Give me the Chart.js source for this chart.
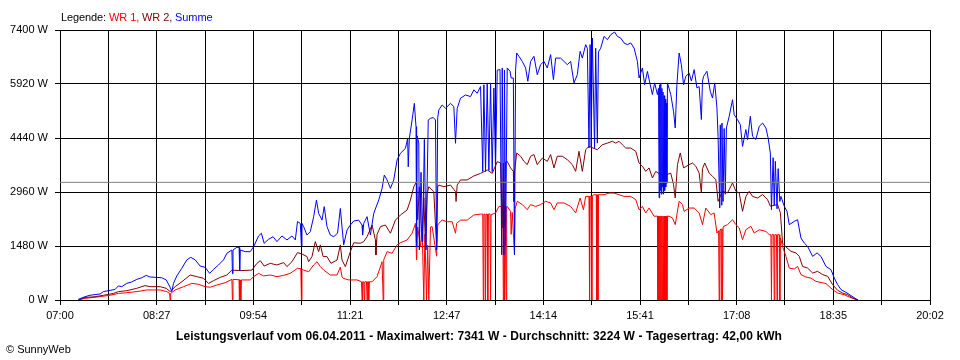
<!DOCTYPE html>
<html><head><meta charset="utf-8">
<script src="https://cdn.jsdelivr.net/npm/chart.js@4.4.0/dist/chart.umd.min.js"></script>
<style>
html,body{margin:0;padding:0;background:#fff;}
#wrap{position:relative;width:960px;height:360px;overflow:hidden;}
canvas{position:absolute;left:0;top:0;}
.txt{position:absolute;font-family:"Liberation Sans",Arial,sans-serif;color:#000;white-space:nowrap;line-height:14px;}
</style></head><body>
<div id="wrap">
<canvas id="c" width="960" height="360"></canvas>
<div class="txt" id="legend" style="left:61px;top:10px;font-size:11px;letter-spacing:-0.1px;">Legende: <span style="color:#ff0000">WR 1,</span> <span style="color:#800000">WR 2,</span> <span style="color:#0000ff">Summe</span></div>
<div class="txt" id="title" style="left:0;width:958px;text-align:center;top:329px;font-size:12px;font-weight:bold;letter-spacing:0.1px;"></div>
<div class="txt" id="copy" style="left:6px;top:342px;font-size:11px;">© SunnyWeb</div>
</div>
<script>
// ---- data (minutes after 07:00, watts) ----
const xLabels = ['07:00','08:27','09:54','11:21','12:47','14:14','15:41','17:08','18:35','20:02'];
const yTicks = [0,1480,2960,4440,5920,7400];
const dateText = '06.04.2011';
const maxW = 7341;
const avgW = 3224;
const yieldKWh = '42,00';

const wr1Data = [[16.5,0],[22.5,45],[33,80],[45,130],[52.5,180],[60,200],[69,230],[78,275],[90,275],[96,230],[98.5,180],[99,0],[99.5,180],[103.5,275],[111,365],[118.5,455],[124.5,430],[130.5,365],[135,350],[141,410],[148.5,475],[154.5,565],[155,0],[155.5,565],[161,555],[161.3,0],[161.8,550],[162.5,0],[163,550],[171,550],[174,640],[178.5,730],[183,660],[189,685],[195,640],[201,675],[207,730],[213.5,870],[216.5,860],[217,0],[217.5,850],[219,820],[223.5,775],[228,960],[231,1050],[234,915],[237,820],[243,685],[249,685],[252,900],[253.5,640],[254.5,595],[259.5,550],[267,550],[271,500],[271.5,0],[272,500],[273,500],[273.5,0],[274,500],[275.5,500],[276,0],[276.5,500],[277,500],[277.5,0],[278,500],[280.5,500],[285,640],[289.5,1050],[290.5,0],[291,1100],[294,1325],[298.5,1280],[303,1510],[306,1570],[312,1645],[316.5,1830],[319.5,2100],[320.5,1100],[321.5,2000],[324,1460],[325.5,2000],[327,0],[328,1800],[329.5,0],[330.5,1500],[331.5,0],[333,2000],[334.5,2010],[338.5,1200],[339.5,2050],[340.5,2100],[343.5,2190],[348,2145],[352.5,2145],[355.5,1830],[356.5,2100],[360,2190],[366,2190],[372,2330],[378,2355],[380,2355],[380.5,0],[381,2355],[382,2355],[382.5,0],[383,2355],[384,2355],[384.5,0],[385,2355],[386.5,2360],[387,0],[387.5,2340],[391.5,2385],[394.5,2565],[398,2565],[398.5,0],[399,2565],[399.5,0],[400,2565],[401,0],[401.5,2565],[402,2565],[405,2430],[405.5,1800],[406.5,2400],[408.5,1240],[409,2500],[411,2705],[415.5,2615],[420,2475],[423,2615],[427.5,2565],[432,2615],[436.5,2705],[441,2660],[444,2475],[447,2660],[453,2660],[459,2565],[463.5,2385],[467.5,2795],[470.5,2475],[472.5,2840],[475.5,2840],[476,0],[476.5,2840],[477.5,2850],[478,0],[478.5,2860],[480,2885],[482,2885],[482.5,0],[483,2885],[483.5,0],[484,2885],[489,2885],[493.5,2930],[498,2930],[502.5,2885],[507,2840],[513,2840],[517.5,2750],[520.5,2475],[523.5,2565],[526.5,2385],[529.5,2520],[534,2295],[537,2300],[537.5,0],[538,2300],[538.5,0],[539,2300],[539.5,0],[540,2300],[540.5,0],[541,2300],[541.5,0],[542,2300],[542.5,0],[543,2300],[543.5,0],[544,2300],[544.5,0],[545,2300],[545.5,0],[546,2300],[547.5,2295],[550.5,2250],[553,2065],[556.5,2705],[559.5,2615],[561,2430],[565.5,2520],[570,2520],[574.5,2385],[577.5,2065],[580.5,2520],[585,2340],[588,2385],[590.5,1835],[592,1900],[592.5,0],[593,1900],[594,1950],[594.5,0],[595,1950],[595.5,0],[596,2000],[596.5,2020],[600,2065],[604.5,2200],[607.5,2065],[610.5,1975],[613.5,1655],[616.5,1925],[621,2020],[624,1835],[628.5,1925],[634.5,1880],[637.5,1790],[639,1790],[639.5,0],[640,1790],[641.5,1790],[642,0],[642.5,1790],[644,1790],[644.5,0],[645,1790],[646.5,1790],[647,0],[647.5,1700],[649.5,1470],[652.5,1195],[655.5,875],[660,850],[663,920],[666,695],[670.5,630],[675,600],[679.5,510],[684,480],[688.5,450],[694.5,285],[699,190],[705,145],[709.5,80],[714,30],[717,0]];

const wr2Data = [[16.5,0],[22.5,70],[31.5,90],[39,130],[48,180],[52.5,230],[60,255],[69,320],[76.5,395],[81,365],[90,365],[95.5,320],[99,230],[103.5,365],[109.5,500],[117,685],[123,640],[129,595],[133.5,455],[138,530],[144,620],[150,685],[154.5,820],[162,805],[172.5,820],[177,1005],[180,1080],[183.5,930],[189,1005],[195,960],[201,1025],[204,915],[208.5,1050],[213.5,1300],[217.5,1260],[222,1190],[223.5,1050],[226.5,1190],[229.5,1600],[232.5,1325],[234,1510],[236.5,1190],[240,1190],[243.5,1005],[249,1095],[252,1510],[253.5,1095],[256.5,915],[261,1325],[264,1570],[270,1555],[273,1600],[276,1735],[280.5,2055],[283.5,1645],[284,1235],[285,1800],[288,2010],[292.5,2055],[297,1830],[301.5,2190],[306,2330],[312,2465],[315,2740],[318,3105],[320.5,3245],[321.5,2200],[323,3100],[324,2560],[325.5,1600],[327,2800],[328.5,1500],[330,2900],[331.5,3105],[336,2970],[338.5,1460],[339.5,3100],[340.5,3150],[345,3105],[351,3150],[355.5,2970],[356,2700],[357,3150],[360,3290],[366,3290],[372,3400],[378,3470],[384,3565],[388.5,3470],[393,3790],[396,3755],[397.5,1975],[398.5,3750],[399.5,2000],[400.5,3780],[402,3800],[405,3620],[407.5,3525],[408,2700],[408.5,3500],[410.5,4030],[414,3940],[417,3800],[420,3710],[423,3940],[426,3985],[429,3710],[433.5,3890],[438,3800],[441,3985],[444,3620],[447,3940],[451.5,3940],[456,3845],[460.5,3710],[463.5,3525],[466.5,4075],[469.5,3525],[472.5,4120],[475.5,4210],[483,4120],[487.5,4255],[492,4300],[496.5,4350],[499.5,4300],[502.5,4350],[505.5,4255],[508.5,4165],[513,4165],[517.5,4075],[520.5,3755],[523.5,3665],[526.5,3525],[529.5,3620],[532.5,3345],[535.5,3525],[540,3430],[544.5,3430],[549,3475],[551.5,3160],[553,2795],[555,3710],[557.5,4030],[560.5,3620],[565.5,3710],[568.5,3755],[571.5,3665],[574.5,3480],[576.5,2935],[577.5,3600],[579.5,3755],[583.5,3480],[586.5,3390],[589.5,3300],[591.5,2705],[595.5,2980],[600,2935],[604.5,3210],[607.5,2980],[610.5,2935],[613.5,2430],[616.5,2840],[619.5,2980],[622.5,2840],[627,2795],[631.5,2890],[636,2750],[638.5,2570],[645,2615],[647.5,2390],[649.5,1560],[653.5,1425],[657,1335],[661.5,1290],[664.5,1195],[667.5,920],[672,875],[676.5,740],[681,785],[685.5,695],[690,650],[694.5,420],[699,265],[703.5,190],[708,145],[712.5,55],[717,0]];

const sumData = [[16.5,20],[22.5,90],[27,130],[36,165],[39,230],[43.5,255],[49.5,290],[52.5,385],[55.5,365],[60,455],[64.5,495],[69,565],[73.5,610],[77.5,675],[81,630],[87,620],[91.5,610],[95.5,550],[99,350],[100.5,230],[102,455],[105,660],[109.5,870],[114,1100],[117.5,1170],[121.5,1100],[126,930],[130.5,895],[134.5,730],[138,840],[142.5,960],[147,1100],[150,1280],[154.5,1370],[155,720],[155.5,1370],[159,1445],[161,1440],[161.5,800],[162,1370],[166.5,1325],[171,1325],[174,1460],[178.5,1755],[181,1830],[183.5,1555],[187.5,1665],[191.5,1735],[195,1600],[199.5,1755],[204,1645],[208.5,1755],[211.5,1645],[213.5,2150],[216,2100],[217,1480],[217.5,2100],[219,2010],[222,1780],[225,1875],[228,2285],[230.5,2740],[232.5,2375],[235.5,2190],[237.5,2560],[240,2010],[243,1780],[246,1735],[249.5,1830],[252,2510],[253.5,2000],[255,1510],[258,1920],[261,2055],[264,2165],[268.5,2190],[271.5,2055],[272,1780],[273,2100],[276,2285],[279,1780],[282,2375],[286.5,2740],[289.5,3060],[291.5,3425],[294,3290],[297,3060],[300,3290],[303,3840],[306,4020],[310.5,4155],[312.5,4430],[313,3650],[314,4430],[316.5,4935],[318.5,5390],[320,4750],[320.5,1460],[321,4500],[322.5,4300],[323,1370],[324.5,3500],[326,1600],[327.5,4400],[329,1370],[331,4935],[333,4980],[335.5,5000],[337.5,4935],[338.5,1370],[339.5,5000],[340.5,5210],[343.5,5345],[346.5,5255],[351,5390],[354,5300],[355.5,4295],[357,5250],[360,5530],[364.5,5620],[369,5575],[372,5760],[375,5665],[378,5850],[380,3520],[381,5900],[382.5,3520],[384,5950],[385.5,3550],[387,5950],[388.5,3520],[390,5810],[391.5,3600],[393,6300],[395.5,6315],[397,1240],[397.5,6360],[399,1240],[399.5,6300],[400.5,1500],[402,6360],[404.5,6270],[405.5,6085],[407.5,6085],[408.5,1240],[409.5,6300],[410.5,6770],[412.5,6680],[415.5,6540],[418.5,6360],[420.5,5995],[423,6540],[426,6680],[429,6175],[432,6450],[435,6540],[438,6360],[441,6725],[443.5,6040],[445.5,6630],[450,6630],[453,6540],[456,6450],[459,6540],[462,5950],[465,6175],[467.5,6815],[469.5,6630],[472.5,7000],[474,6900],[475.5,4165],[476.5,7000],[477.5,4200],[478.5,7180],[480.5,4165],[481.5,6900],[483,4300],[484,6800],[486,6900],[489,7225],[492,7135],[495,7270],[498.5,7345],[501,7225],[504,7180],[507,7045],[510,7000],[513,7045],[516,6905],[519,6540],[520.5,6085],[523.5,6360],[525.5,5900],[528,6265],[530.5,5900],[532.5,5630],[534.5,5950],[537,5630],[538,5800],[538.5,2800],[539,5900],[539.5,3000],[540,5950],[540.5,2900],[541,5800],[541.5,3100],[542,5700],[542.5,2900],[543,5600],[543.5,3000],[544,5500],[544.5,3100],[545,5400],[545.5,3200],[546,5950],[549,5630],[551.5,5170],[553,4715],[554.5,5900],[556.5,6770],[558.5,6450],[560.5,5900],[562.5,6130],[565.5,6220],[567.5,6000],[570,6315],[572.5,5810],[574.5,5850],[576.5,4945],[577.5,6000],[578.5,6130],[581.5,6270],[584.5,5720],[586.5,5535],[588.5,5950],[590.5,5260],[591.5,4485],[593,2520],[593.5,4800],[594.5,2600],[595,4850],[596,2700],[597,4700],[598,2900],[599,4715],[601.5,5035],[604.5,5490],[606,5080],[609,4940],[611.5,4805],[613.5,4210],[616.5,4670],[618,4395],[620.5,5035],[622.5,4485],[625.5,4400],[628.5,4760],[631.5,4850],[634.5,4715],[636.5,4440],[638.5,4030],[639.5,2475],[641,3900],[642,2600],[643,3800],[644.5,2500],[645.5,3600],[647,2700],[648,2840],[651,2570],[653.5,2430],[655.5,2065],[660,2155],[663,2200],[666,1700],[669,1560],[672,1470],[676.5,1195],[680.5,1290],[684,1195],[688.5,920],[693,830],[696,600],[699,420],[702,285],[706.5,210],[711,120],[715.5,30],[717.5,0]];

// ---- chart ----
const FONT = '"Liberation Sans", Arial, sans-serif';
const xMax = 782;
const gridCount = (xLabels.length - 1) * 2;
const toXY = arr => arr.map(p => ({x: p[0], y: p[1]}));

document.getElementById('title').textContent =
  'Leistungsverlauf vom ' + dateText + ' - Maximalwert: ' + maxW + ' W - Durchschnitt: ' + avgW + ' W - Tagesertrag: ' + yieldKWh + ' kWh';

const lineDs = (label, data, color, order) => ({
  label, data: toXY(data), borderColor: color, backgroundColor: color,
  borderWidth: 1, pointRadius: 0, tension: 0, fill: false, order
});

new Chart(document.getElementById('c').getContext('2d'), {
  type: 'line',
  data: {
    datasets: [
      lineDs('Durchschnitt', [[0, avgW], [xMax, avgW]], '#808080', 0),
      lineDs('Summe', sumData, '#0000ff', 1),
      lineDs('WR 2', wr2Data, '#800000', 2),
      lineDs('WR 1', wr1Data, '#ff0000', 3)
    ]
  },
  options: {
    responsive: false,
    animation: false,
    devicePixelRatio: 1,
    layout: { padding: { top: 30, right: 30, left: 0, bottom: 0 } },
    plugins: { legend: { display: false }, tooltip: { enabled: false }, title: { display: false } },
    scales: {
      x: {
        type: 'linear', min: 0, max: xMax, z: 1,
        afterBuildTicks: s => {
          const t = [];
          for (let i = 0; i <= gridCount; i++) t.push({ value: i * xMax / gridCount });
          s.ticks = t;
        },
        afterFit: s => { s.height = 60; },
        ticks: {
          autoSkip: false, maxRotation: 0, minRotation: 0, color: '#000', padding: 4,
          font: { family: FONT, size: 11 },
          callback: (v, i) => (i % 2 === 0 ? xLabels[i / 2] : '')
        },
        grid: { color: '#000', lineWidth: 1, tickLength: 5, drawTicks: true },
        border: { color: '#000', width: 1 }
      },
      y: {
        min: 0, max: 7400, z: 1,
        afterBuildTicks: s => { s.ticks = yTicks.map(v => ({ value: v })); },
        afterFit: s => { s.width = 60; },
        ticks: {
          color: '#000', padding: 7,
          font: { family: FONT, size: 11 },
          callback: v => v + ' W'
        },
        grid: { color: '#000', lineWidth: 1, tickLength: 5, drawTicks: true },
        border: { color: '#000', width: 1 }
      }
    }
  }
});
</script>
</body></html>
